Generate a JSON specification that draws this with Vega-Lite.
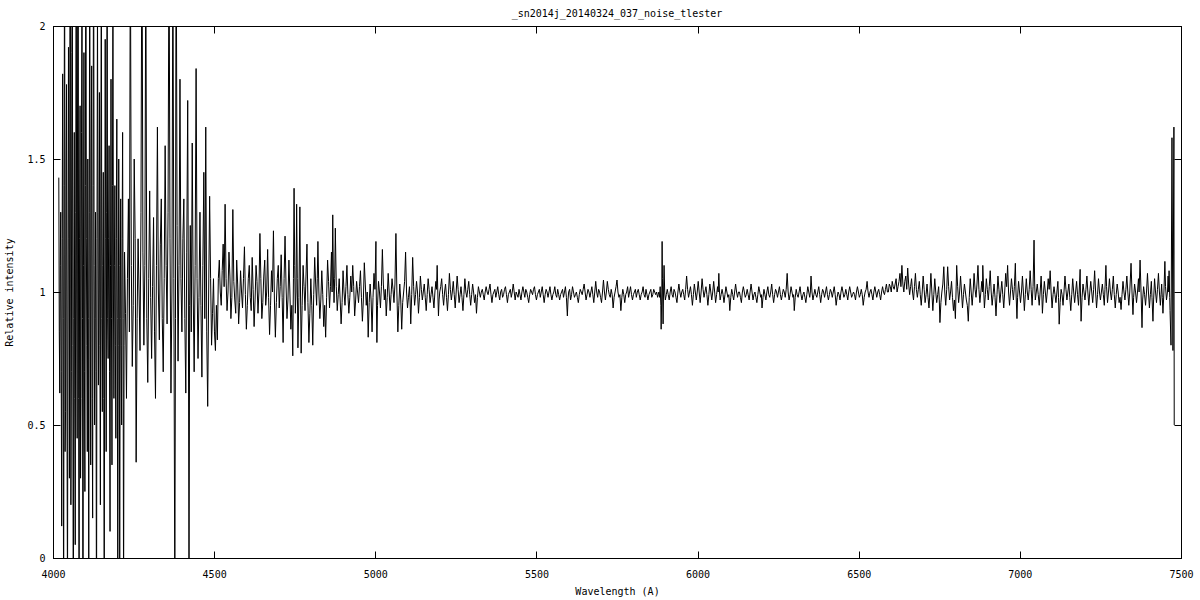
{
"$schema": "https://vega.github.io/schema/vega-lite/v6.json",
"width": 1128, "height": 532,
"autosize": "none",
"padding": {"left": 53, "top": 26, "right": 19, "bottom": 42},
"background": "white",
"title": {"text": "_sn2014j_20140324_037_noise_tlester", "font": "DejaVu Sans Mono", "fontSize": 10, "fontWeight": "normal", "color": "black", "offset": 2, "anchor": "middle"},
"config": {
  "view": {"stroke": "black", "strokeWidth": 1},
  "axis": {"grid": false, "domainColor": "black", "tickColor": "black", "tickSize": -7, "labelFont": "DejaVu Sans Mono", "labelFontSize": 10, "labelColor": "black", "titleFont": "DejaVu Sans Mono", "titleFontSize": 10, "titleFontWeight": "normal", "titleColor": "black", "labelFlush": false, "labelOverlap": false}
},
"data": {"values": [
{"w":4018,"f":1.43},{"w":4019.5,"f":0.85},{"w":4021,"f":0.62},{"w":4022.5,"f":1.1},{"w":4024,"f":1.3},{"w":4025.5,"f":0.7},{"w":4027,"f":0.12},{"w":4028.5,"f":1.2},{"w":4030,"f":1.82},{"w":4031.5,"f":0.9},{"w":4033,"f":-0.4},{"w":4034.5,"f":1.4},{"w":4036,"f":2.6},{"w":4037.5,"f":0.4},{"w":4039,"f":0.55},{"w":4040.5,"f":1.5},{"w":4042,"f":1.78},{"w":4043.5,"f":0.5},{"w":4045,"f":-0.2},{"w":4046.5,"f":1.0},{"w":4048,"f":1.92},{"w":4049.5,"f":1.2},{"w":4051,"f":0.3},{"w":4052.5,"f":2.2},{"w":4054,"f":2.8},{"w":4055.5,"f":0.2},{"w":4057,"f":0.7},{"w":4058.5,"f":1.9},{"w":4060,"f":2.3},{"w":4061.5,"f":0.8},{"w":4063,"f":-0.5},{"w":4064.5,"f":0.9},{"w":4066,"f":1.6},{"w":4067.5,"f":0.6},{"w":4069,"f":0.05},{"w":4070.5,"f":1.3},{"w":4072,"f":2.5},{"w":4073.5,"f":1.0},{"w":4075,"f":0.45},{"w":4076.5,"f":2.1},{"w":4078,"f":3.0},{"w":4079.5,"f":0.6},{"w":4081,"f":-0.3},{"w":4082.5,"f":1.2},{"w":4084,"f":1.7},{"w":4085.5,"f":0.3},{"w":4087,"f":0.6},{"w":4088.5,"f":1.6},{"w":4090,"f":2.2},{"w":4091.5,"f":0.9},{"w":4093,"f":-0.6},{"w":4094.5,"f":1.1},{"w":4096,"f":1.9},{"w":4097.5,"f":0.7},{"w":4099,"f":0.25},{"w":4100.5,"f":1.4},{"w":4102,"f":2.7},{"w":4103.5,"f":1.2},{"w":4105,"f":0.8},{"w":4106.5,"f":0.4},{"w":4108,"f":1.5},{"w":4109.5,"f":0.9},{"w":4111,"f":-0.1},{"w":4112.5,"f":1.3},{"w":4114,"f":2.4},{"w":4115.5,"f":1.0},{"w":4117,"f":0.35},{"w":4118.5,"f":1.5},{"w":4120,"f":1.85},{"w":4121.5,"f":0.6},{"w":4123,"f":0.15},{"w":4124.5,"f":1.4},{"w":4126,"f":2.6},{"w":4127.5,"f":1.1},{"w":4129,"f":0.5},{"w":4130.5,"f":0.9},{"w":4132,"f":1.3},{"w":4133.5,"f":0.7},{"w":4135,"f":-0.4},{"w":4136.5,"f":1.2},{"w":4138,"f":2.1},{"w":4139.5,"f":1.3},{"w":4141,"f":0.65},{"w":4142.5,"f":1.0},{"w":4144,"f":1.75},{"w":4145.5,"f":0.8},{"w":4147,"f":0.2},{"w":4148.5,"f":1.5},{"w":4150,"f":2.3},{"w":4151.5,"f":0.9},{"w":4153,"f":0.55},{"w":4154.5,"f":1.1},{"w":4156,"f":1.45},{"w":4157.5,"f":0.6},{"w":4159,"f":-0.2},{"w":4160.5,"f":1.0},{"w":4162,"f":1.95},{"w":4163.5,"f":1.2},{"w":4165,"f":0.4},{"w":4166.5,"f":1.3},{"w":4168,"f":2.5},{"w":4169.5,"f":0.9},{"w":4171,"f":0.75},{"w":4172.5,"f":1.2},{"w":4174,"f":1.55},{"w":4175.5,"f":0.7},{"w":4177,"f":0.1},{"w":4178.5,"f":1.1},{"w":4180,"f":1.8},{"w":4181.5,"f":0.9},{"w":4183,"f":0.35},{"w":4184.5,"f":1.4},{"w":4186,"f":2.2},{"w":4187.5,"f":1.0},{"w":4189,"f":0.6},{"w":4190.5,"f":1.1},{"w":4192,"f":1.4},{"w":4193.5,"f":0.8},{"w":4195,"f":0.45},{"w":4196.5,"f":1.2},{"w":4198,"f":1.65},{"w":4199.5,"f":0.9},{"w":4201,"f":-0.1},{"w":4202.5,"f":0.8},{"w":4204,"f":1.5},{"w":4205.5,"f":1.1},{"w":4207,"f":-0.1},{"w":4208.5,"f":0.9},{"w":4210,"f":1.35},{"w":4211.5,"f":0.8},{"w":4213,"f":0.5},{"w":4214.5,"f":1.2},{"w":4216,"f":1.6},{"w":4217.5,"f":0.9},{"w":4219,"f":-0.2},{"w":4220.5,"f":0.8},
{"w":4222,"f":1.15},{"w":4225,"f":0.92},{"w":4228,"f":0.6},{"w":4231,"f":1.05},{"w":4234,"f":1.35},{"w":4237,"f":0.85},{"w":4240,"f":2.4},{"w":4243,"f":1.1},{"w":4246,"f":0.72},{"w":4249,"f":0.95},{"w":4252,"f":1.5},{"w":4255,"f":1.2},{"w":4258,"f":0.36},{"w":4261,"f":0.9},{"w":4264,"f":1.2},{"w":4267,"f":1.0},{"w":4270,"f":0.78},{"w":4273,"f":1.3},{"w":4276,"f":2.5},{"w":4279,"f":1.15},{"w":4282,"f":0.8},{"w":4285,"f":1.1},{"w":4288,"f":2.3},{"w":4291,"f":0.9},{"w":4294,"f":0.66},{"w":4297,"f":1.05},{"w":4300,"f":1.38},{"w":4303,"f":0.98},{"w":4306,"f":0.75},{"w":4309,"f":1.02},{"w":4312,"f":1.28},{"w":4315,"f":0.85},{"w":4318,"f":0.6},{"w":4321,"f":1.1},{"w":4324,"f":1.62},{"w":4327,"f":1.0},{"w":4330,"f":0.82},{"w":4333,"f":1.18},{"w":4336,"f":1.35},{"w":4339,"f":0.9},{"w":4342,"f":0.7},{"w":4345,"f":1.05},{"w":4348,"f":1.55},{"w":4351,"f":1.1},{"w":4354,"f":0.88},{"w":4357,"f":1.3},{"w":4360,"f":2.4},{"w":4363,"f":1.2},{"w":4366,"f":0.62},{"w":4369,"f":1.0},{"w":4372,"f":2.3},{"w":4375,"f":1.05},{"w":4378,"f":-0.2},{"w":4380,"f":0.9},{"w":4382,"f":2.5},{"w":4385,"f":1.25},{"w":4388,"f":0.74},{"w":4391,"f":1.1},{"w":4394,"f":1.8},{"w":4397,"f":1.05},{"w":4400,"f":0.85},{"w":4403,"f":1.2},{"w":4406,"f":1.35},{"w":4409,"f":0.9},{"w":4412,"f":0.62},{"w":4415,"f":1.15},{"w":4418,"f":1.72},{"w":4420,"f":1.0},{"w":4422,"f":-0.1},{"w":4424,"f":0.95},{"w":4426,"f":1.25},{"w":4429,"f":0.85},{"w":4432,"f":1.56},{"w":4435,"f":1.0},{"w":4438,"f":0.7},{"w":4441,"f":1.1},{"w":4444,"f":1.84},{"w":4447,"f":1.05},{"w":4450,"f":0.75},{"w":4453,"f":0.98},{"w":4456,"f":1.3},{"w":4459,"f":0.95},{"w":4462,"f":0.68},{"w":4465,"f":1.1},{"w":4468,"f":1.45},{"w":4471,"f":0.9},{"w":4474,"f":1.62},{"w":4477,"f":0.85},{"w":4480,"f":0.57},{"w":4483,"f":1.0},{"w":4486,"f":1.36},{"w":4489,"f":1.05},{"w":4492,"f":0.8},{"w":4495,"f":0.92},{"w":4498,"f":1.05},{"w":4501,"f":0.85},{"w":4504,"f":0.78},{"w":4507,"f":0.95},{"w":4510,"f":0.82},
{"w":4513,"f":1.05},{"w":4516,"f":1.12},{"w":4519,"f":1.0},{"w":4522,"f":0.95},{"w":4525,"f":1.08},{"w":4528,"f":1.18},{"w":4531,"f":1.02},{"w":4534,"f":1.33},{"w":4537,"f":1.05},{"w":4540,"f":0.93},{"w":4543,"f":1.0},{"w":4546,"f":1.15},{"w":4549,"f":1.06},{"w":4552,"f":0.9},{"w":4555,"f":0.98},{"w":4558,"f":1.31},{"w":4561,"f":1.04},{"w":4564,"f":0.97},{"w":4567,"f":0.92},{"w":4570,"f":1.12},{"w":4573,"f":1.03},{"w":4576,"f":0.88},{"w":4579,"f":0.96},{"w":4582,"f":1.08},{"w":4585,"f":1.0},{"w":4588,"f":0.94},{"w":4591,"f":1.05},{"w":4594,"f":1.17},{"w":4597,"f":0.99},{"w":4600,"f":0.86},{"w":4603,"f":0.95},{"w":4606,"f":1.05},{"w":4609,"f":1.1},{"w":4612,"f":0.98},{"w":4615,"f":0.93},{"w":4618,"f":1.13},{"w":4621,"f":1.01},{"w":4624,"f":0.87},{"w":4627,"f":0.97},{"w":4630,"f":1.1},{"w":4633,"f":1.04},{"w":4636,"f":0.92},{"w":4639,"f":1.0},{"w":4642,"f":1.22},{"w":4645,"f":1.05},{"w":4648,"f":0.9},{"w":4651,"f":0.96},{"w":4654,"f":1.06},{"w":4657,"f":1.12},{"w":4660,"f":0.95},{"w":4663,"f":1.0},{"w":4666,"f":1.16},{"w":4669,"f":0.98},{"w":4672,"f":0.84},{"w":4675,"f":0.95},{"w":4678,"f":1.08},{"w":4681,"f":1.0},{"w":4684,"f":1.23},{"w":4687,"f":0.97},{"w":4690,"f":0.83},{"w":4693,"f":0.96},{"w":4696,"f":1.05},{"w":4699,"f":1.1},
{"w":4702,"f":0.94},{"w":4705,"f":1.02},{"w":4708,"f":1.14},{"w":4711,"f":0.98},{"w":4714,"f":0.81},{"w":4717,"f":1.05},{"w":4720,"f":1.21},{"w":4723,"f":1.03},{"w":4726,"f":0.9},{"w":4729,"f":0.97},{"w":4732,"f":1.12},{"w":4735,"f":1.0},{"w":4738,"f":0.86},{"w":4741,"f":0.95},{"w":4744,"f":0.76},{"w":4746,"f":1.05},{"w":4748,"f":1.39},{"w":4750,"f":1.1},{"w":4752,"f":0.92},{"w":4754,"f":1.0},{"w":4756,"f":1.33},{"w":4758,"f":1.05},{"w":4760,"f":0.79},{"w":4763,"f":0.98},{"w":4766,"f":1.32},{"w":4768,"f":1.0},{"w":4770,"f":0.77},{"w":4773,"f":0.95},{"w":4776,"f":1.1},{"w":4779,"f":1.02},{"w":4782,"f":0.93},{"w":4785,"f":1.06},{"w":4788,"f":1.18},{"w":4791,"f":0.96},{"w":4794,"f":0.81},{"w":4797,"f":0.92},{"w":4800,"f":1.05},{"w":4803,"f":0.95},{"w":4806,"f":0.8},{"w":4809,"f":0.99},{"w":4812,"f":1.13},{"w":4815,"f":1.03},{"w":4818,"f":0.95},{"w":4820,"f":1.05},{"w":4822,"f":1.19},{"w":4825,"f":1.0},{"w":4828,"f":0.9},{"w":4831,"f":0.97},{"w":4834,"f":1.08},{"w":4837,"f":0.99},{"w":4840,"f":0.87},{"w":4843,"f":0.95},{"w":4846,"f":0.83},{"w":4849,"f":0.98},{"w":4852,"f":1.12},{"w":4855,"f":1.04},{"w":4858,"f":0.94},{"w":4861,"f":1.02},{"w":4864,"f":1.15},{"w":4866,"f":1.0},{"w":4868,"f":1.29},{"w":4870,"f":1.06},{"w":4872,"f":0.96},{"w":4874,"f":1.05},{"w":4876,"f":1.24},{"w":4879,"f":1.02},{"w":4882,"f":0.93},{"w":4885,"f":0.99},{"w":4888,"f":1.05},{"w":4891,"f":0.97},{"w":4894,"f":0.88},{"w":4897,"f":0.96},{"w":4900,"f":1.08},
{"w":4903,"f":1.0},{"w":4906,"f":0.95},{"w":4909,"f":1.02},{"w":4912,"f":1.1},{"w":4915,"f":0.99},{"w":4918,"f":0.92},{"w":4921,"f":0.98},{"w":4924,"f":1.06},{"w":4927,"f":1.0},{"w":4930,"f":1.1},{"w":4933,"f":1.02},{"w":4936,"f":0.91},{"w":4939,"f":0.97},{"w":4942,"f":1.04},{"w":4945,"f":1.0},{"w":4948,"f":0.96},{"w":4951,"f":1.02},{"w":4954,"f":1.08},{"w":4957,"f":0.98},{"w":4960,"f":0.89},{"w":4963,"f":0.97},{"w":4966,"f":1.11},{"w":4969,"f":1.03},{"w":4972,"f":0.95},{"w":4975,"f":1.0},{"w":4978,"f":0.83},{"w":4981,"f":0.96},{"w":4984,"f":1.03},{"w":4987,"f":0.97},{"w":4990,"f":0.85},{"w":4993,"f":0.98},{"w":4996,"f":1.07},{"w":4999,"f":1.01},{"w":5002,"f":1.19},{"w":5003,"f":1.0},{"w":5005,"f":0.81},{"w":5007,"f":0.95},{"w":5010,"f":1.04},{"w":5013,"f":1.0},{"w":5016,"f":0.94},{"w":5019,"f":1.02},{"w":5022,"f":1.16},{"w":5025,"f":1.03},{"w":5028,"f":0.97},{"w":5031,"f":1.01},{"w":5034,"f":0.91},{"w":5037,"f":0.98},{"w":5040,"f":1.07},{"w":5043,"f":1.0},{"w":5046,"f":0.93},{"w":5049,"f":0.99},{"w":5052,"f":1.05},{"w":5055,"f":1.01},{"w":5058,"f":0.96},{"w":5061,"f":1.03},{"w":5064,"f":1.22},{"w":5067,"f":1.0},{"w":5070,"f":0.85},{"w":5073,"f":0.95},{"w":5076,"f":1.03},{"w":5079,"f":0.97},{"w":5082,"f":0.86},{"w":5085,"f":0.96},{"w":5088,"f":1.0},{"w":5091,"f":1.04},{"w":5094,"f":1.15},{"w":5097,"f":1.0},{"w":5100,"f":0.94},{"w":5103,"f":0.98},{"w":5106,"f":1.02},{"w":5108,"f":0.97},{"w":5110,"f":0.88},{"w":5113,"f":0.99},{"w":5116,"f":1.13},{"w":5119,"f":1.02},{"w":5122,"f":0.95},{"w":5125,"f":0.99},{"w":5128,"f":1.04},{"w":5131,"f":1.0},{"w":5134,"f":0.92},{"w":5137,"f":0.98},{"w":5140,"f":1.06},{"w":5143,"f":1.01},{"w":5146,"f":0.97},{"w":5149,"f":1.0},{"w":5152,"f":1.03},{"w":5155,"f":0.98},{"w":5158,"f":0.93},{"w":5161,"f":0.99},{"w":5164,"f":1.05},{"w":5167,"f":1.01},{"w":5170,"f":0.96},{"w":5173,"f":0.99},{"w":5176,"f":1.02},{"w":5179,"f":0.98},{"w":5182,"f":0.94},{"w":5185,"f":1.0},{"w":5188,"f":1.04},{"w":5190,"f":1.01},{"w":5192,"f":1.1},{"w":5194,"f":1.0},{"w":5196,"f":0.91},{"w":5198,"f":0.97},{"w":5200,"f":1.0},
{"w":5203,"f":1.02},{"w":5206,"f":1.05},{"w":5209,"f":0.99},{"w":5212,"f":0.95},{"w":5215,"f":1.0},{"w":5218,"f":1.03},{"w":5221,"f":0.98},{"w":5224,"f":0.93},{"w":5227,"f":0.99},{"w":5230,"f":1.07},{"w":5233,"f":1.01},{"w":5236,"f":0.97},{"w":5239,"f":1.0},{"w":5242,"f":1.04},{"w":5245,"f":0.99},{"w":5248,"f":0.94},{"w":5251,"f":1.0},{"w":5254,"f":1.06},{"w":5257,"f":1.01},{"w":5260,"f":0.96},{"w":5263,"f":0.99},{"w":5266,"f":1.02},{"w":5269,"f":0.98},{"w":5272,"f":0.93},{"w":5275,"f":0.99},{"w":5278,"f":1.05},{"w":5281,"f":1.0},{"w":5284,"f":0.98},{"w":5287,"f":1.01},{"w":5290,"f":1.04},{"w":5293,"f":0.99},{"w":5296,"f":0.95},{"w":5299,"f":0.99},{"w":5302,"f":1.03},{"w":5305,"f":1.0},{"w":5308,"f":0.96},{"w":5311,"f":0.99},{"w":5314,"f":0.92},{"w":5317,"f":0.98},{"w":5320,"f":1.02},
{"w":5323,"f":1.0},{"w":5326,"f":0.98},{"w":5329,"f":1.0},{"w":5332,"f":1.01},{"w":5335,"f":0.99},{"w":5338,"f":0.97},{"w":5341,"f":1.0},{"w":5344,"f":1.02},{"w":5347,"f":1.0},{"w":5350,"f":0.99},{"w":5353,"f":1.01},{"w":5356,"f":1.03},{"w":5359,"f":0.99},{"w":5362,"f":0.96},{"w":5365,"f":0.99},{"w":5368,"f":1.0},{"w":5371,"f":1.01},{"w":5374,"f":0.98},{"w":5377,"f":1.0},{"w":5380,"f":1.02},{"w":5383,"f":0.99},{"w":5386,"f":0.97},{"w":5389,"f":1.0},{"w":5392,"f":1.01},{"w":5395,"f":0.98},{"w":5398,"f":0.99},{"w":5401,"f":1.01},{"w":5404,"f":1.02},{"w":5407,"f":0.99},{"w":5410,"f":0.96},{"w":5413,"f":0.99},{"w":5416,"f":1.0},{"w":5419,"f":1.01},{"w":5422,"f":0.98},{"w":5425,"f":1.0},{"w":5428,"f":1.03},{"w":5431,"f":1.0},{"w":5434,"f":0.97},{"w":5437,"f":1.0},{"w":5440,"f":0.99},{"w":5443,"f":0.98},{"w":5446,"f":1.01},{"w":5449,"f":0.99},{"w":5452,"f":0.97},{"w":5455,"f":1.0},{"w":5458,"f":1.02},{"w":5461,"f":1.0},{"w":5464,"f":0.98},{"w":5467,"f":1.01},{"w":5470,"f":1.0},{"w":5473,"f":0.98},{"w":5476,"f":0.96},{"w":5479,"f":0.99},{"w":5482,"f":1.01},{"w":5485,"f":1.0},{"w":5488,"f":0.99},{"w":5491,"f":1.01},{"w":5494,"f":1.02},{"w":5497,"f":0.99},{"w":5500,"f":0.97},{"w":5503,"f":0.99},{"w":5506,"f":1.0},{"w":5509,"f":1.01},{"w":5512,"f":0.98},{"w":5515,"f":1.0},{"w":5518,"f":1.02},{"w":5521,"f":0.99},{"w":5524,"f":0.96},{"w":5527,"f":0.99},{"w":5530,"f":1.01},{"w":5533,"f":1.0},{"w":5536,"f":0.98},{"w":5539,"f":1.0},{"w":5542,"f":1.02},{"w":5545,"f":0.99},{"w":5548,"f":0.97},{"w":5551,"f":0.99},{"w":5554,"f":1.0},{"w":5557,"f":1.02},{"w":5560,"f":0.99},{"w":5563,"f":0.98},{"w":5566,"f":1.01},{"w":5569,"f":0.99},{"w":5572,"f":0.97},{"w":5575,"f":0.99},{"w":5578,"f":1.0},{"w":5581,"f":1.01},{"w":5584,"f":0.98},{"w":5587,"f":1.0},{"w":5590,"f":1.02},{"w":5593,"f":0.98},{"w":5596,"f":0.91},{"w":5598,"f":0.97},{"w":5600,"f":1.0},{"w":5603,"f":1.01},{"w":5606,"f":0.97},{"w":5609,"f":0.99},{"w":5612,"f":1.02},{"w":5615,"f":1.0},{"w":5618,"f":0.98},{"w":5621,"f":0.99},{"w":5624,"f":1.0},{"w":5627,"f":0.98},{"w":5630,"f":0.96},{"w":5633,"f":0.99},{"w":5636,"f":1.01},{"w":5639,"f":1.0},{"w":5642,"f":0.99},{"w":5645,"f":1.01},{"w":5648,"f":1.03},{"w":5651,"f":1.0},{"w":5654,"f":0.97},{"w":5657,"f":0.99},{"w":5660,"f":1.01},{"w":5663,"f":1.0},{"w":5666,"f":0.98},{"w":5669,"f":1.0},{"w":5672,"f":1.02},{"w":5675,"f":0.99},{"w":5678,"f":0.96},{"w":5681,"f":1.0},{"w":5684,"f":1.04},{"w":5687,"f":1.0},{"w":5690,"f":0.98},{"w":5693,"f":1.01},{"w":5696,"f":1.0},{"w":5699,"f":0.98},{"w":5702,"f":0.96},{"w":5705,"f":1.0},{"w":5708,"f":1.045},{"w":5711,"f":1.0},{"w":5714,"f":0.97},{"w":5717,"f":1.0},{"w":5720,"f":1.04},{"w":5723,"f":1.01},{"w":5726,"f":0.99},{"w":5729,"f":0.98},{"w":5732,"f":1.01},{"w":5735,"f":0.99},{"w":5738,"f":0.94},{"w":5741,"f":0.98},{"w":5744,"f":1.0},{"w":5747,"f":1.02},{"w":5750,"f":1.045},{"w":5753,"f":1.0},{"w":5756,"f":0.98},{"w":5759,"f":0.99},{"w":5762,"f":0.93},{"w":5765,"f":0.98},{"w":5768,"f":1.01},{"w":5771,"f":0.99},{"w":5774,"f":0.96},{"w":5777,"f":0.99},{"w":5780,"f":1.0},{"w":5783,"f":1.02},{"w":5786,"f":0.98},{"w":5789,"f":1.0},{"w":5792,"f":1.02},{"w":5795,"f":0.99},{"w":5798,"f":0.97},{"w":5801,"f":0.99},{"w":5804,"f":1.0},{"w":5807,"f":1.01},{"w":5810,"f":0.98},{"w":5813,"f":1.0},{"w":5816,"f":1.01},{"w":5819,"f":0.99},{"w":5822,"f":0.97},{"w":5825,"f":0.99},{"w":5828,"f":1.0},{"w":5831,"f":1.02},{"w":5834,"f":0.99},{"w":5837,"f":0.98},{"w":5840,"f":1.01},{"w":5843,"f":0.99},{"w":5846,"f":0.97},{"w":5849,"f":0.99},{"w":5852,"f":1.0},{"w":5855,"f":1.01},{"w":5858,"f":0.98},{"w":5861,"f":0.99},{"w":5864,"f":1.01},{"w":5867,"f":1.0},{"w":5870,"f":0.99},{"w":5873,"f":1.0},{"w":5876,"f":0.98},{"w":5878,"f":0.99},{"w":5880,"f":1.0},
{"w":5882,"f":0.98},{"w":5884,"f":1.02},{"w":5886,"f":0.95},{"w":5887,"f":0.86},{"w":5889,"f":1.0},{"w":5890,"f":1.19},{"w":5891,"f":1.05},{"w":5893,"f":0.88},{"w":5894,"f":0.97},{"w":5896,"f":1.1},{"w":5898,"f":1.0},{"w":5900,"f":0.97},{"w":5903,"f":0.99},
{"w":5906,"f":1.01},{"w":5909,"f":0.99},{"w":5912,"f":0.97},{"w":5915,"f":1.0},{"w":5918,"f":1.02},{"w":5921,"f":0.99},{"w":5924,"f":0.98},{"w":5927,"f":1.01},{"w":5930,"f":1.0},{"w":5933,"f":0.98},{"w":5936,"f":0.96},{"w":5939,"f":1.0},{"w":5942,"f":1.03},{"w":5945,"f":1.0},{"w":5948,"f":0.98},{"w":5951,"f":1.0},{"w":5954,"f":1.01},{"w":5957,"f":0.99},{"w":5960,"f":0.97},{"w":5963,"f":1.01},{"w":5966,"f":1.06},{"w":5969,"f":1.01},{"w":5972,"f":0.98},{"w":5975,"f":1.0},{"w":5978,"f":1.02},{"w":5981,"f":0.99},{"w":5984,"f":0.95},{"w":5987,"f":0.99},{"w":5990,"f":1.03},{"w":5993,"f":1.0},{"w":5996,"f":0.97},{"w":5999,"f":1.0},{"w":6002,"f":1.04},{"w":6005,"f":1.0},{"w":6008,"f":0.96},{"w":6011,"f":1.0},{"w":6014,"f":1.05},{"w":6017,"f":1.01},{"w":6020,"f":0.98},{"w":6023,"f":1.0},{"w":6026,"f":1.02},{"w":6029,"f":0.99},{"w":6032,"f":0.95},{"w":6035,"f":0.99},{"w":6038,"f":1.03},{"w":6041,"f":1.0},{"w":6044,"f":0.97},{"w":6047,"f":1.0},{"w":6050,"f":1.04},{"w":6053,"f":1.0},{"w":6056,"f":0.96},{"w":6059,"f":0.99},{"w":6062,"f":1.02},{"w":6064,"f":1.0},{"w":6066,"f":1.07},{"w":6068,"f":1.0},{"w":6070,"f":0.97},{"w":6073,"f":0.99},{"w":6076,"f":1.01},{"w":6079,"f":0.99},{"w":6082,"f":0.96},{"w":6085,"f":0.99},{"w":6088,"f":1.02},{"w":6091,"f":1.0},{"w":6094,"f":0.98},{"w":6097,"f":0.99},{"w":6100,"f":0.93},{"w":6103,"f":0.98},{"w":6106,"f":1.01},{"w":6109,"f":0.99},{"w":6112,"f":0.97},{"w":6115,"f":1.0},{"w":6118,"f":1.03},{"w":6121,"f":1.0},{"w":6124,"f":0.98},{"w":6127,"f":1.0},{"w":6130,"f":1.0},{"w":6133,"f":0.98},{"w":6136,"f":0.96},{"w":6139,"f":1.0},{"w":6142,"f":1.02},{"w":6145,"f":1.0},{"w":6148,"f":0.98},{"w":6151,"f":0.99},{"w":6154,"f":1.01},{"w":6157,"f":0.99},{"w":6160,"f":0.97},{"w":6163,"f":1.0},{"w":6166,"f":1.03},{"w":6169,"f":1.0},{"w":6172,"f":0.97},{"w":6175,"f":0.99},{"w":6178,"f":1.0},{"w":6181,"f":0.98},{"w":6184,"f":0.96},{"w":6187,"f":0.99},{"w":6190,"f":1.02},{"w":6193,"f":1.0},{"w":6196,"f":0.98},{"w":6198,"f":0.99},{"w":6200,"f":0.94},{"w":6203,"f":0.98},{"w":6206,"f":1.01},{"w":6209,"f":0.99},{"w":6212,"f":0.97},{"w":6215,"f":1.0},{"w":6218,"f":1.02},{"w":6221,"f":0.99},{"w":6224,"f":0.98},{"w":6227,"f":1.0},{"w":6230,"f":1.03},{"w":6233,"f":0.99},{"w":6236,"f":0.96},{"w":6239,"f":0.99},{"w":6242,"f":1.01},{"w":6245,"f":1.0},{"w":6248,"f":0.98},{"w":6251,"f":1.0},{"w":6254,"f":1.02},{"w":6257,"f":0.99},{"w":6260,"f":0.97},{"w":6263,"f":0.99},{"w":6266,"f":1.01},{"w":6269,"f":1.0},{"w":6272,"f":0.98},{"w":6275,"f":1.01},{"w":6278,"f":1.07},{"w":6281,"f":1.0},{"w":6284,"f":0.97},{"w":6287,"f":0.99},{"w":6290,"f":1.02},{"w":6293,"f":1.0},{"w":6296,"f":0.98},{"w":6298,"f":0.99},{"w":6300,"f":0.93},{"w":6303,"f":0.98},{"w":6306,"f":1.01},{"w":6309,"f":0.99},{"w":6312,"f":0.98},{"w":6315,"f":1.0},{"w":6318,"f":1.02},{"w":6321,"f":0.99},{"w":6324,"f":0.97},{"w":6327,"f":0.99},{"w":6330,"f":1.0},{"w":6333,"f":0.98},{"w":6336,"f":0.96},{"w":6339,"f":0.99},{"w":6342,"f":1.02},{"w":6345,"f":1.0},{"w":6348,"f":0.98},{"w":6350,"f":1.0},{"w":6352,"f":1.06},{"w":6355,"f":1.0},{"w":6358,"f":0.97},{"w":6361,"f":0.99},{"w":6364,"f":1.01},{"w":6367,"f":0.99},{"w":6370,"f":0.98},{"w":6373,"f":1.0},{"w":6376,"f":1.02},{"w":6379,"f":0.99},{"w":6382,"f":0.96},{"w":6385,"f":0.99},{"w":6388,"f":1.01},{"w":6391,"f":1.0},{"w":6394,"f":0.98},{"w":6397,"f":1.0},{"w":6400,"f":1.02},{"w":6403,"f":0.99},{"w":6406,"f":0.97},{"w":6409,"f":0.99},{"w":6412,"f":1.01},{"w":6415,"f":1.0},{"w":6418,"f":0.98},{"w":6421,"f":1.0},{"w":6424,"f":1.02},{"w":6427,"f":0.99},{"w":6430,"f":0.95},{"w":6433,"f":0.98},{"w":6436,"f":1.0},{"w":6439,"f":0.99},{"w":6442,"f":0.97},{"w":6445,"f":1.0},{"w":6448,"f":1.02},{"w":6451,"f":1.0},{"w":6454,"f":0.98},{"w":6457,"f":0.99},{"w":6460,"f":1.01},{"w":6463,"f":0.99},{"w":6466,"f":0.97},{"w":6469,"f":1.0},{"w":6472,"f":1.02},{"w":6475,"f":1.0},{"w":6478,"f":0.98},{"w":6481,"f":0.99},{"w":6484,"f":1.0},{"w":6487,"f":0.99},{"w":6490,"f":0.97},{"w":6493,"f":1.0},{"w":6496,"f":1.02},{"w":6499,"f":1.0},{"w":6502,"f":0.98},{"w":6505,"f":0.99},{"w":6508,"f":1.01},{"w":6511,"f":0.99},{"w":6514,"f":0.95},{"w":6517,"f":0.98},{"w":6520,"f":1.0},{"w":6523,"f":1.01},{"w":6526,"f":1.04},{"w":6529,"f":1.0},{"w":6532,"f":0.98},{"w":6535,"f":1.0},{"w":6538,"f":1.01},{"w":6541,"f":0.99},{"w":6544,"f":0.97},{"w":6547,"f":1.0},{"w":6550,"f":1.02},{"w":6553,"f":1.0},{"w":6556,"f":0.98},{"w":6559,"f":1.0},{"w":6562,"f":1.01},{"w":6565,"f":0.99},{"w":6568,"f":0.97},{"w":6571,"f":1.0},{"w":6574,"f":1.02},{"w":6577,"f":1.0},{"w":6580,"f":0.99},{"w":6583,"f":1.01},{"w":6586,"f":1.03},{"w":6589,"f":1.0},{"w":6592,"f":1.0},{"w":6595,"f":1.03},
{"w":6598,"f":1.02},{"w":6601,"f":1.0},{"w":6604,"f":1.04},{"w":6607,"f":1.02},{"w":6610,"f":1.01},{"w":6613,"f":1.03},{"w":6616,"f":1.05},{"w":6619,"f":1.0},{"w":6622,"f":1.02},{"w":6625,"f":1.04},{"w":6628,"f":1.07},{"w":6631,"f":1.02},{"w":6634,"f":1.1},{"w":6637,"f":1.03},{"w":6640,"f":1.0},{"w":6643,"f":1.04},{"w":6646,"f":1.06},{"w":6649,"f":1.01},{"w":6652,"f":1.09},{"w":6655,"f":1.03},{"w":6658,"f":0.99},{"w":6661,"f":1.02},{"w":6664,"f":1.05},{"w":6667,"f":1.0},{"w":6670,"f":0.97},{"w":6673,"f":1.02},{"w":6676,"f":1.07},{"w":6679,"f":1.01},{"w":6682,"f":0.98},{"w":6685,"f":1.01},{"w":6688,"f":1.04},{"w":6691,"f":0.99},{"w":6694,"f":0.95},{"w":6697,"f":1.0},{"w":6700,"f":1.06},{"w":6703,"f":1.01},{"w":6706,"f":0.96},{"w":6709,"f":0.99},{"w":6712,"f":1.03},{"w":6715,"f":0.98},{"w":6718,"f":0.94},{"w":6721,"f":1.0},{"w":6724,"f":1.07},{"w":6727,"f":1.0},{"w":6730,"f":0.93},{"w":6733,"f":0.99},{"w":6736,"f":1.05},{"w":6739,"f":1.0},{"w":6742,"f":0.96},{"w":6745,"f":0.99},{"w":6748,"f":1.02},{"w":6750,"f":0.97},{"w":6752,"f":0.885},{"w":6755,"f":0.96},{"w":6758,"f":1.0},{"w":6761,"f":1.03},{"w":6764,"f":1.095},{"w":6767,"f":1.0},{"w":6770,"f":0.95},{"w":6773,"f":1.01},{"w":6776,"f":1.095},{"w":6779,"f":1.02},{"w":6782,"f":0.97},{"w":6785,"f":1.0},{"w":6788,"f":1.04},{"w":6791,"f":0.98},{"w":6794,"f":0.93},{"w":6797,"f":0.97},{"w":6800,"f":0.9},{"w":6802,"f":1.0},{"w":6804,"f":1.1},{"w":6807,"f":1.02},{"w":6810,"f":0.96},{"w":6813,"f":1.0},{"w":6816,"f":1.06},{"w":6819,"f":1.0},{"w":6822,"f":0.94},{"w":6825,"f":0.99},{"w":6828,"f":1.03},{"w":6831,"f":1.0},{"w":6834,"f":0.97},{"w":6837,"f":0.95},{"w":6840,"f":0.89},{"w":6843,"f":0.98},{"w":6846,"f":1.05},{"w":6849,"f":1.0},{"w":6852,"f":0.95},{"w":6855,"f":1.0},{"w":6858,"f":1.07},{"w":6861,"f":1.01},{"w":6864,"f":0.98},{"w":6867,"f":1.03},{"w":6870,"f":1.1},{"w":6873,"f":1.01},{"w":6876,"f":0.96},{"w":6879,"f":1.0},{"w":6882,"f":1.04},{"w":6884,"f":1.0},{"w":6885,"f":1.1},{"w":6888,"f":1.0},{"w":6890,"f":0.94},{"w":6893,"f":0.99},{"w":6896,"f":1.05},{"w":6899,"f":1.01},{"w":6902,"f":0.97},{"w":6905,"f":1.02},{"w":6908,"f":1.08},{"w":6911,"f":1.0},{"w":6914,"f":0.95},{"w":6917,"f":0.99},{"w":6920,"f":1.03},{"w":6923,"f":0.98},{"w":6926,"f":0.91},{"w":6929,"f":0.99},{"w":6932,"f":1.06},{"w":6935,"f":1.01},{"w":6938,"f":0.96},{"w":6941,"f":1.0},{"w":6944,"f":1.04},{"w":6947,"f":0.99},{"w":6950,"f":0.94},{"w":6953,"f":1.0},{"w":6956,"f":1.07},{"w":6959,"f":1.02},{"w":6962,"f":1.1},{"w":6965,"f":1.0},{"w":6968,"f":0.95},{"w":6971,"f":1.0},{"w":6974,"f":1.05},{"w":6977,"f":1.01},{"w":6980,"f":0.97},{"w":6983,"f":1.02},{"w":6986,"f":1.108},{"w":6988,"f":1.0},{"w":6991,"f":0.9},{"w":6993,"f":0.98},{"w":6996,"f":1.04},{"w":6999,"f":1.0},{"w":7002,"f":0.96},{"w":7005,"f":1.0},{"w":7008,"f":1.06},{"w":7011,"f":1.0},{"w":7014,"f":0.93},{"w":7017,"f":0.99},{"w":7020,"f":1.05},{"w":7023,"f":1.0},{"w":7026,"f":0.97},{"w":7029,"f":1.01},{"w":7032,"f":1.08},{"w":7035,"f":1.01},{"w":7038,"f":0.95},{"w":7041,"f":1.02},{"w":7044,"f":1.195},{"w":7046,"f":1.03},{"w":7048,"f":0.97},{"w":7051,"f":1.0},{"w":7054,"f":1.03},{"w":7057,"f":0.99},{"w":7060,"f":0.95},{"w":7063,"f":1.0},{"w":7066,"f":1.06},{"w":7068,"f":1.0},{"w":7070,"f":0.92},{"w":7073,"f":0.99},{"w":7076,"f":1.04},{"w":7079,"f":1.0},{"w":7082,"f":0.96},{"w":7085,"f":1.0},{"w":7088,"f":1.05},{"w":7091,"f":1.01},{"w":7094,"f":1.08},{"w":7097,"f":1.0},{"w":7100,"f":0.94},{"w":7103,"f":0.99},{"w":7106,"f":1.02},{"w":7109,"f":0.99},{"w":7112,"f":0.96},{"w":7115,"f":1.0},{"w":7118,"f":1.04},{"w":7120,"f":0.98},{"w":7122,"f":0.879},{"w":7125,"f":0.96},{"w":7128,"f":1.01},{"w":7131,"f":0.99},{"w":7134,"f":0.95},{"w":7137,"f":1.0},{"w":7140,"f":1.06},{"w":7143,"f":1.01},{"w":7146,"f":0.97},{"w":7149,"f":1.0},{"w":7152,"f":1.03},{"w":7155,"f":0.98},{"w":7158,"f":0.93},{"w":7161,"f":0.99},{"w":7164,"f":1.05},{"w":7167,"f":1.0},{"w":7170,"f":0.96},{"w":7173,"f":1.0},{"w":7176,"f":1.04},{"w":7179,"f":0.99},{"w":7182,"f":0.95},{"w":7184,"f":1.0},{"w":7187,"f":1.085},{"w":7188,"f":1.0},{"w":7190,"f":0.89},{"w":7193,"f":0.98},{"w":7196,"f":1.03},{"w":7199,"f":1.0},{"w":7202,"f":0.97},{"w":7205,"f":1.01},{"w":7208,"f":1.06},{"w":7211,"f":1.0},{"w":7214,"f":0.95},{"w":7217,"f":1.0},{"w":7220,"f":1.04},{"w":7223,"f":1.0},{"w":7226,"f":0.96},{"w":7229,"f":1.01},{"w":7232,"f":1.08},{"w":7235,"f":1.0},{"w":7238,"f":0.94},{"w":7241,"f":0.99},{"w":7244,"f":1.05},{"w":7247,"f":1.0},{"w":7250,"f":0.97},{"w":7253,"f":1.0},{"w":7256,"f":1.03},{"w":7259,"f":0.99},{"w":7262,"f":0.95},{"w":7264,"f":1.01},{"w":7267,"f":1.1},{"w":7269,"f":1.02},{"w":7272,"f":0.96},{"w":7275,"f":1.0},{"w":7278,"f":1.05},{"w":7281,"f":1.0},{"w":7284,"f":0.97},{"w":7287,"f":1.01},{"w":7290,"f":1.06},{"w":7293,"f":0.99},{"w":7296,"f":0.94},{"w":7299,"f":0.99},{"w":7302,"f":1.03},{"w":7305,"f":1.0},{"w":7308,"f":0.96},{"w":7311,"f":0.98},{"w":7314,"f":0.934},{"w":7317,"f":0.99},{"w":7320,"f":1.04},{"w":7323,"f":1.0},{"w":7326,"f":0.97},{"w":7329,"f":1.01},{"w":7332,"f":1.06},{"w":7335,"f":1.0},{"w":7338,"f":0.95},{"w":7341,"f":1.0},{"w":7345,"f":1.108},{"w":7348,"f":1.0},{"w":7351,"f":0.915},{"w":7353,"f":0.98},{"w":7356,"f":1.03},{"w":7359,"f":1.0},{"w":7362,"f":0.96},{"w":7365,"f":1.0},{"w":7368,"f":1.05},{"w":7370,"f":1.0},{"w":7373,"f":1.12},{"w":7376,"f":1.0},{"w":7379,"f":0.866},{"w":7381,"f":0.97},{"w":7384,"f":1.02},{"w":7387,"f":0.99},{"w":7390,"f":0.95},{"w":7393,"f":1.0},{"w":7396,"f":1.07},{"w":7399,"f":1.0},{"w":7402,"f":0.94},{"w":7405,"f":0.99},{"w":7408,"f":1.04},{"w":7410,"f":0.98},{"w":7413,"f":0.89},{"w":7415,"f":0.97},{"w":7418,"f":1.05},{"w":7421,"f":1.0},{"w":7424,"f":0.96},{"w":7427,"f":1.01},{"w":7430,"f":1.07},{"w":7433,"f":1.0},{"w":7436,"f":0.95},{"w":7438,"f":0.99},{"w":7440,"f":1.03},{"w":7442,"f":0.98},{"w":7444,"f":0.92},{"w":7447,"f":1.0},{"w":7450,"f":1.115},{"w":7452,"f":1.02},{"w":7455,"f":0.97},{"w":7458,"f":1.0},{"w":7460,"f":1.06},{"w":7462,"f":1.0},{"w":7463,"f":1.08},{"w":7465,"f":0.98},{"w":7466,"f":0.93},
{"w":7469,"f":0.8},{"w":7472,"f":1.58},{"w":7475,"f":0.78},{"w":7478,"f":1.62},{"w":7479,"f":0.5}
]},
"layer": [
  {
    "mark": {"type": "line", "color": "black", "strokeWidth": 1, "clip": true},
    "encoding": {
      "x": {"field": "w", "type": "quantitative", "scale": {"domain": [4000, 7500], "nice": false, "zero": false},
            "axis": {"orient": "bottom", "values": [4000, 4500, 5000, 5500, 6000, 6500, 7000, 7500], "format": "d", "title": "Wavelength (A)", "labelPadding": 18, "titlePadding": 7}},
      "y": {"field": "f", "type": "quantitative", "scale": {"domain": [0, 2], "nice": false, "zero": false},
            "axis": {"orient": "left", "values": [0, 0.5, 1, 1.5, 2], "format": "~g", "title": "Relative intensity", "labelPadding": 15, "titlePadding": 12}}
    }
  },
  {
    "mark": {"type": "line", "opacity": 0, "clip": true},
    "encoding": {
      "x": {"field": "w", "type": "quantitative", "scale": {"domain": [4000, 7500], "nice": false, "zero": false},
            "axis": {"orient": "top", "values": [4000, 4500, 5000, 5500, 6000, 6500, 7000, 7500], "labels": false, "title": null}},
      "y": {"field": "f", "type": "quantitative", "scale": {"domain": [0, 2], "nice": false, "zero": false},
            "axis": {"orient": "right", "values": [0, 0.5, 1, 1.5, 2], "labels": false, "title": null}}
    }
  }
],
"resolve": {"axis": {"x": "independent", "y": "independent"}}
}
